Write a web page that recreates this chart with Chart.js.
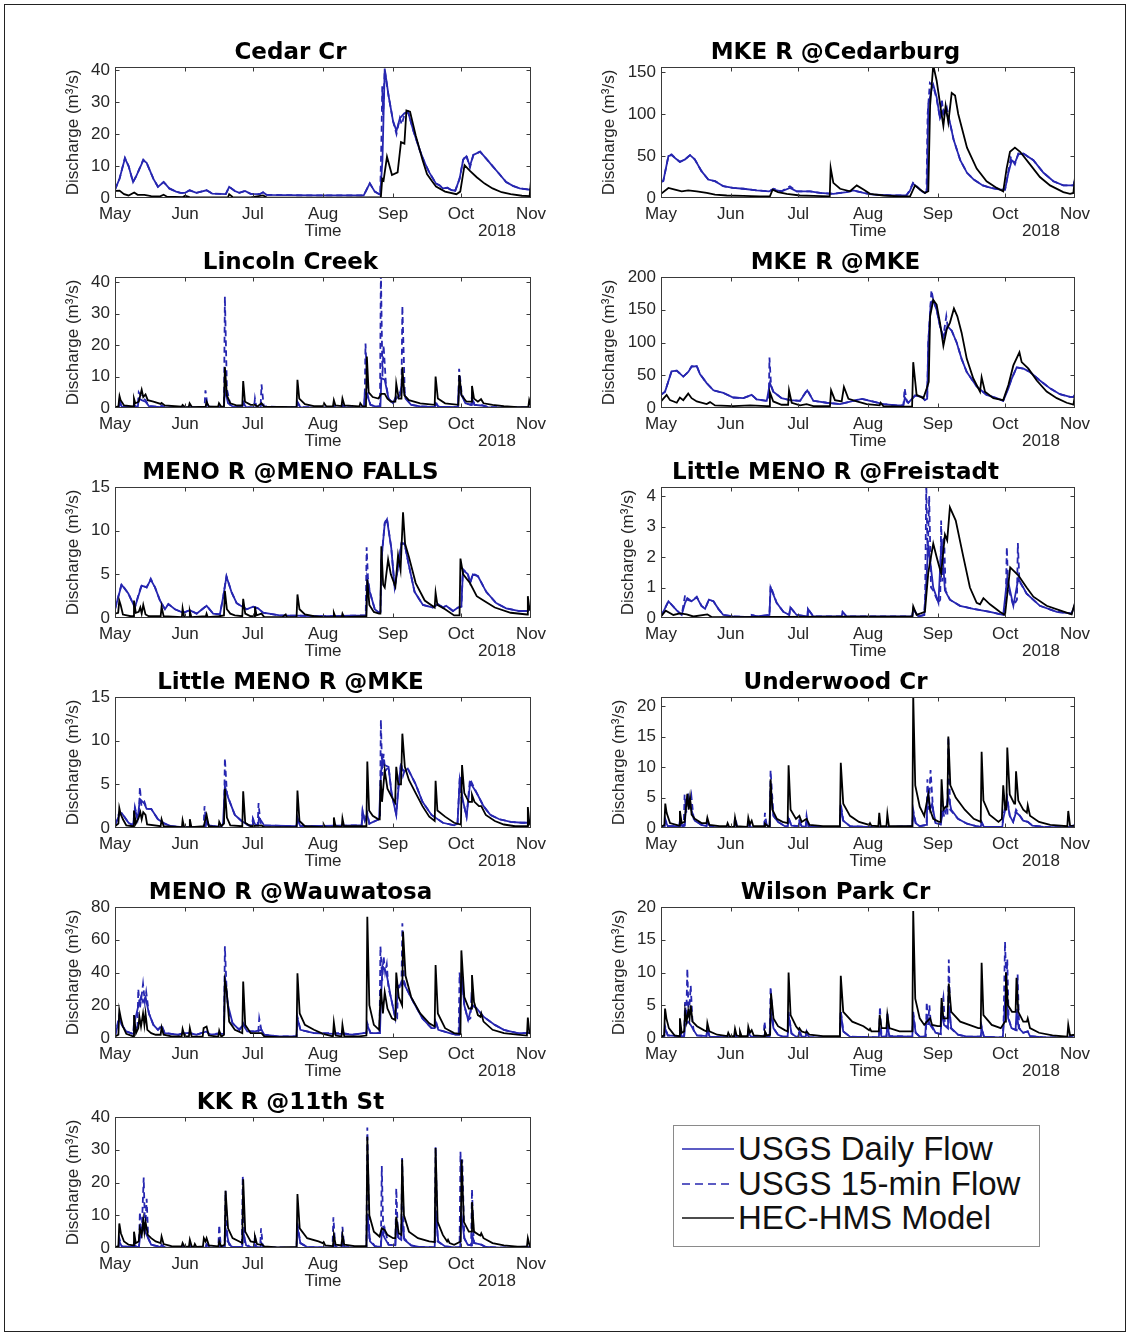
<!DOCTYPE html>
<html>
<head>
<meta charset="utf-8">
<script src="https://cdn.jsdelivr.net/npm/chart.js@4.4.1/dist/chart.umd.min.js"></script>
<style>
  body { margin: 0; background: #fff; width: 1130px; height: 1336px; position: relative; overflow: hidden;
         font-family: "Liberation Sans", Arial, sans-serif; }
  #frame { position: absolute; left: 4px; top: 4px; width: 1120px; height: 1326px; border: 1.5px solid #222; }
  canvas { position: absolute; }
  #legend { position: absolute; left: 673px; top: 1125px; width: 365px; height: 120px; border: 1px solid #8a8a8a; background: #fff; }
  #legend .row { position: absolute; left: 8px; height: 34px; display: flex; align-items: center;
                 font-size: 33px; line-height: 34px; color: #111; white-space: nowrap; }
  #legend svg { margin-right: 4px; }
</style>
</head>
<body>
<div id="frame"></div>
<div id="legend">
  <div class="row" style="top:6px"><svg width="52" height="4"><line x1="0" y1="2" x2="52" y2="2" stroke="#2626b0" stroke-width="1.6"/></svg>USGS Daily Flow</div>
  <div class="row" style="top:41px"><svg width="52" height="4"><line x1="0" y1="2" x2="52" y2="2" stroke="#2626b0" stroke-width="1.6" stroke-dasharray="8 5"/></svg>USGS 15-min Flow</div>
  <div class="row" style="top:75px"><svg width="52" height="4"><line x1="0" y1="2" x2="52" y2="2" stroke="#111" stroke-width="1.6"/></svg>HEC-HMS Model</div>
</div>
<script>
// time axis: days since 1 May 2018
const monthDays = [0, 31, 61, 92, 123, 153, 184];
const monthNames = ['May', 'Jun', 'Jul', 'Aug', 'Sep', 'Oct', 'Nov'];
const yearLabel = '2018';

const siteTitles = ['Cedar Cr', 'MKE R @Cedarburg', 'Lincoln Creek', 'MKE R @MKE', 'MENO R @MENO FALLS',
  'Little MENO R @Freistadt', 'Little MENO R @MKE', 'Underwood Cr', 'MENO R @Wauwatosa', 'Wilson Park Cr', 'KK R @11th St'];
const yMax = [41, 156, 41.7, 200, 15, 4.3, 15, 21.5, 80, 20, 40];
const yStep = [10, 50, 10, 50, 5, 1, 5, 5, 20, 5, 10];

// [day, discharge m3/s]
const cedarDaily = [[0,2.6],[2,6],[4.4,12.4],[6,10],[8,5],[9.5,7],[12.5,11.8],[14,11],[17,6],[19,3.5],[21.5,5],[24,3],[27,2],[29,1.6],[31,1.6],[33,2.4],[36,1.6],[40.5,2.4],[43,1.4],[49,1.2],[50.5,3.5],[53,2.2],[55,1.6],[57.5,2.2],[60,1.3],[64,1.2],[65.5,1.8],[67,1],[75,0.9],[90,0.8],[105,0.8],[110,0.8],[112.7,4.6],[114.9,2],[117.3,1],[118.3,12],[119.3,40.5],[121,32],[123,24],[124.5,21],[126,25],[128,26.5],[129.6,27],[132,21],[134.8,15],[137,11],[139,8],[142,4.5],[143.5,4],[145,3],[147,3.2],[148.7,2.5],[150.5,2.3],[152.4,6],[154,12],[155.4,13],[157,10],[158.5,13.5],[161.5,14.5],[164,12.5],[167,10],[170,7.5],[173,5],[176,3.8],[179,3],[183.4,2.6],[184,3]];
const cedarQ15 = [[0,2.6],[2,6],[4.4,12.6],[6,10],[8,5],[9.5,7],[12.5,12],[14,11],[17,6],[19,3.5],[21.5,5],[24,3],[27,2],[29,1.6],[31,1.6],[33,2.4],[36,1.6],[40.5,2.4],[43,1.4],[49,1.2],[50.5,3.5],[53,2.2],[55,1.6],[57.5,2.2],[60,1.3],[64,1.2],[65.5,1.8],[67,1],[75,0.9],[90,0.8],[105,0.8],[110,0.8],[112.7,4.6],[114.9,2],[117.3,1],[117.9,20],[118.2,35],[118.6,26],[119.3,40],[121,32],[123,24],[124.5,20],[126,25],[126.8,23],[128,26],[129.6,27],[132,21],[134.8,15],[137,11],[139,8],[142,4.5],[143.5,4],[145,3],[147,3.2],[148.7,2.5],[150.5,2.3],[152.4,6],[154,12],[155.4,13.5],[157,9.5],[158.5,13.5],[161.5,14.5],[164,12.5],[167,10],[170,7.5],[173,5],[176,3.8],[179,3],[183.4,2.6],[184,3]];
const cedarModel = [[0,2.2],[2,2.3],[4,1.2],[6,0.8],[8.5,1.7],[10,1],[13,1],[16,0.6],[20,0.5],[21.5,1],[23,0.4],[30,0.3],[31,0.7],[33,0.3],[40,0.2],[50,0.2],[50.5,1.2],[52,0.3],[60,0.2],[65.5,0.8],[67,0.2],[80,0.1],[100,0.1],[112.7,0.2],[117.6,0.3],[118.2,6],[118.8,5.5],[120.3,12.9],[122.5,7.2],[125,8],[126.5,17.5],[128,17],[128.9,27.4],[130.5,27],[133,19.6],[136,12],[138,7.5],[140,5.5],[142,3.6],[146,2],[151,1.2],[152.7,2],[154.6,10.3],[157,8.5],[160,6.5],[163.5,4.5],[167,3],[171,1.8],[175,1.2],[180,0.7],[183.4,0.6],[184,5.5]];

const cedarburgDaily = [[0,20],[1,20],[3.3,50],[4.7,51],[6.5,47],[8.4,43],[10.7,46],[12.9,51],[15,46],[18,32],[21,22],[24,20],[27.7,14],[32,12],[36.6,11],[42.5,9],[48,8],[50,10],[53.6,8],[57.3,12],[60.3,8],[66.2,8],[70.7,6],[76.6,5],[82.5,7],[85.5,9],[90,6],[94.4,4],[103.3,3],[109,3],[110.5,8],[112,17],[114.4,12],[115.9,8],[117.3,6],[118.2,8],[118.8,110],[120.3,130],[121,135],[122.5,120],[124,95],[125.5,105],[127,100],[128.4,90],[130,70],[133,45],[136,30],[139,22],[143,15],[146.7,12],[150.7,10],[152.9,10],[154.4,30],[155.9,45],[157.3,42],[158.8,52],[161,53],[165.5,45],[170,30],[174.4,20],[178.8,15],[183.3,15],[184,22]];
const cedarburgQ15 = [[0,19],[1,20],[3.3,50],[4.7,52],[6.5,47],[8.4,43],[10.7,46],[12.9,51],[15,46],[18,32],[21,22],[24,20],[27.7,14],[32,12],[36.6,11],[42.5,9],[48,8],[50,11],[53.6,8],[57.3,14],[60.3,8],[66.2,8],[70.7,6],[76.6,5],[82.5,7],[85.5,9],[90,6],[94.4,4],[103.3,3],[109,3],[110.5,9],[112,18],[114.4,12],[115.9,8],[117.3,6],[118,8],[118.5,100],[119.5,137],[121,133],[122.5,118],[124,95],[124.8,118],[125.5,100],[127,108],[128.4,90],[130,70],[133,45],[136,30],[139,22],[143,15],[146.7,12],[150.7,10],[152.9,10],[154.4,32],[155.5,48],[157.3,40],[158.8,53],[161,53],[165.5,45],[170,30],[174.4,20],[178.8,15],[183.3,15],[184,22]];
const cedarburgModel = [[0,5],[3.3,12],[6.2,10],[9.2,8],[12.1,9],[15.9,8],[20.3,6],[24,4],[29.2,3],[36.6,2.5],[44,2],[48.4,2],[49.6,10],[52,7],[55.9,5],[61.8,3],[67.7,2.5],[75,2],[75.4,36],[76.6,18],[79.6,11],[84,8],[87,15],[90,10],[92.9,5],[98.8,3],[106,2],[110.7,2],[112.9,15],[115.1,10],[117.3,6],[118.8,8],[119.6,110],[121,158],[122.5,140],[124.7,100],[125.5,86],[126.5,110],[127.7,90],[129.2,125],[130.7,122],[132.1,100],[136,60],[140.3,35],[144.7,20],[149.2,12],[152.1,8],[153.6,35],[155.1,55],[157.3,60],[159.6,55],[164,40],[168.4,25],[172.9,15],[178.8,7],[181.8,5],[183.3,6],[184,25]];

const lincolnDaily = [[0,0.2],[1.6,0.2],[2,1.5],[3,0.5],[8,0.3],[8.4,1],[9.2,0.4],[10.1,0.4],[10.5,3],[11.8,2.5],[13.5,2],[15,0.6],[20.2,0.3],[20.6,0.6],[22,0.2],[40.1,0.2],[40.5,1.5],[41.5,0.3],[48.2,0.3],[48.6,6],[50,1.5],[52,0.5],[56.3,0.3],[56.7,1.5],[58,0.3],[64.4,0.2],[64.8,1.5],[66,0.3],[80.3,0.2],[80.7,1.5],[82,0.3],[96.4,0.1],[96.8,0.5],[97.5,0.1],[100.2,0.1],[100.6,0.8],[102,0.2],[110.1,0.2],[110.5,5],[111.6,4],[113,1],[115,0.5],[117.4,0.5],[117.8,9.5],[119.3,9],[121,3],[123,1.5],[124.4,3],[126,4],[127.1,9],[128.5,3],[131,1],[135,0.5],[141.4,0.3],[141.8,1.5],[143,0.4],[151.6,0.3],[152,6],[153.3,4],[155,1.5],[157.5,1],[157.9,3],[159,1],[162,0.8],[165,0.3],[183,0.2],[184,0.3]];
const lincolnQ15 = [[0,0.2],[1.6,0.2],[2,2.5],[3,0.5],[8,0.3],[8.4,1.2],[9.2,0.4],[10.1,0.4],[10.5,5],[11.8,3.5],[13.5,2.5],[15,0.6],[20.2,0.3],[20.6,0.8],[22,0.2],[39.6,0.2],[40,5.6],[41,0.4],[48.2,0.3],[48.6,35.5],[49.5,6],[51,1],[56.3,0.3],[56.7,2],[58,0.3],[61.5,0.2],[61.9,3],[62.5,0.4],[64.4,0.3],[64.8,7.5],[65.8,0.5],[80.3,0.2],[80.7,2],[82,0.3],[96.4,0.1],[96.8,0.8],[97.5,0.1],[100.2,0.1],[100.6,1],[102,0.2],[110.4,0.2],[110.8,20.5],[111.8,4],[113,1],[115,0.5],[117.2,0.5],[117.6,44],[118.3,10],[118.8,20],[119.8,8],[121,3],[123,1.5],[124.4,4],[126,5],[126.7,5],[127.1,32.5],[128.2,4],[131,1],[135,0.5],[141.4,0.3],[141.8,2],[143,0.4],[151.8,0.3],[152.2,12.5],[153.3,5],[155,1.5],[157.5,1],[157.9,4],[159,1],[162,1],[165,0.3],[183,0.2],[184,0.3]];
const lincolnModel = [[0,0.3],[1.5,0.5],[2,3.8],[2.5,2.5],[4,0.8],[8,0.5],[8.4,3],[9,1.5],[10.5,2],[11.8,5.8],[12.5,3.5],[13.5,4.3],[14.5,2.5],[17,2],[20.2,1.3],[20.6,1.6],[22,0.8],[29.5,0.4],[29.9,1],[31,0.3],[32.6,0.3],[33,1.5],[34,0.3],[40.1,0.4],[40.5,2],[41.5,0.5],[45.6,0.4],[46,1.5],[47,0.4],[48.2,0.5],[48.6,13],[49.5,4],[51,1.5],[54,0.8],[56.3,0.8],[56.7,8.6],[57.5,2],[60,1],[61.9,1],[63,0.5],[64.8,1.5],[66,0.4],[80.3,0.3],[80.7,9],[81.5,3],[84,1.2],[88,0.6],[92.1,0.6],[92.5,1.5],[93.5,0.5],[96.4,0.5],[96.8,2.5],[97.5,0.8],[100.2,0.6],[100.6,3],[101.5,0.8],[108.1,0.5],[108.5,1.5],[109.5,0.5],[111,0.5],[111.4,16.4],[112.2,5],[114,3.5],[116.5,3],[117.8,4.5],[119.3,4.5],[120.5,3],[122,2],[124,2],[124.4,7.8],[125.5,3],[126.7,3],[127.1,13],[128,4],[130,2.5],[135,1.5],[141.4,1],[141.8,10],[142.8,3],[146,1.5],[151.9,1],[152.3,10.5],[153.3,4],[155.5,2],[157.5,2],[157.9,7],[158.8,3],[160.5,2],[161.9,2.8],[163,1.5],[167,1],[172,0.6],[178,0.3],[182.8,0.3],[183.2,2.5],[184,0.5]];

const mkeDaily = [[0,20],[1.8,25],[4.7,56],[7,57],[9.9,48],[12.1,55],[13.6,63],[15.9,64],[17.3,52],[20.3,38],[23.3,27],[27.7,23],[32.1,16],[36.6,15],[40.3,20],[42.5,13],[47,11],[48.4,38],[49.9,25],[53.6,15],[57.3,12],[61.8,11],[65,27],[67.7,11],[73.6,8],[79.6,6],[85.5,11],[89.2,14],[92.9,11],[98.8,6],[104.7,4],[107.7,4],[108.4,16],[109.9,8],[112.9,19],[115.9,17],[117.3,12],[118.3,14],[118.8,100],[119.9,160],[121,165],[122.5,150],[124,125],[125.5,108],[127.3,125],[129.2,118],[131.4,100],[133.6,75],[135.9,55],[140.3,33],[144.7,20],[149.2,15],[152.1,11],[154.4,30],[155.9,45],[158.1,62],[161.1,60],[164,55],[168.4,42],[172.9,30],[177.3,21],[181.8,17],[183.3,17],[184,21]];
const mkeQ15 = [[0,20],[1.8,25],[4.7,56],[7,57],[9.9,48],[12.1,55],[13.6,64],[15.9,64],[17.3,52],[20.3,38],[23.3,27],[27.7,23],[32.1,16],[36.6,15],[40.3,20],[42.5,13],[47,11],[47.9,12],[48.2,77],[48.9,35],[49.9,25],[53.6,15],[57.3,12],[61.8,11],[65,28],[67.7,11],[73.6,8],[79.6,6],[85.5,11],[89.2,14],[92.9,11],[98.8,6],[104.7,4],[107.7,4],[108.3,30],[109.2,10],[109.9,8],[112.9,19],[115.9,17],[117.3,12],[118.3,14],[118.8,100],[120.2,180],[121,165],[122.5,150],[124,125],[125.5,110],[126.8,140],[127.5,122],[129.2,118],[131.4,100],[133.6,75],[135.9,55],[140.3,33],[144.7,20],[149.2,15],[152.1,11],[154.4,32],[155.9,45],[158.1,62],[161.1,60],[164,55],[168.4,42],[172.9,30],[177.3,21],[181.8,17],[183.3,17],[184,21]];
const mkeModel = [[0,10],[2.5,20],[4,12],[7,8],[8.4,16],[9.9,12],[12.1,22],[13.6,15],[15.9,10],[20.3,6],[21.8,9],[24,4],[32.1,3],[39.6,4],[47,3],[48,3],[48.4,24],[49.9,10],[53.6,5],[56.5,5],[56.9,27],[58.1,8],[61.8,4],[64.7,6],[67.7,3],[75.1,3],[75.6,27],[77.3,12],[80.3,10],[81.3,32],[83.3,14],[87,10],[91.4,6],[97.2,4],[97.6,8],[98.8,3],[106.2,2],[111.6,2],[112.1,70],[113.6,20],[116.6,15],[118.1,30],[119,40],[119.6,140],[121,165],[122.5,158],[124,130],[125.5,95],[127,120],[128.4,130],[130.2,152],[131.7,140],[133.6,115],[135.9,75],[138.8,45],[141.8,25],[142.5,47],[144,25],[147.7,15],[152.1,12],[154.4,35],[156.6,65],[159.3,85],[160.3,70],[163.3,60],[167,42],[171.4,25],[175.9,15],[180.3,8],[183.3,5],[184,20]];

const menoFallsDaily = [[0,1],[2.9,3.8],[5.9,2.8],[8.8,1.2],[10.3,2.5],[11.8,3.7],[14,3.5],[15.8,4.4],[17.7,3.5],[19.9,2],[22.1,1],[23.6,1.6],[26.5,1],[30.2,0.6],[33.1,0.9],[36.1,0.5],[40.5,1.4],[43.4,0.5],[46.4,0.4],[47.9,2.5],[49.3,4.75],[51.5,3],[53.8,1.7],[58.2,1],[61.1,1.3],[63.3,1.1],[65.5,0.6],[72.9,0.3],[93.5,0.2],[111.1,0.3],[111.5,4.5],[112.7,3],[114.9,1],[116.8,0.6],[117.4,0.7],[117.8,6.5],[119.3,10.8],[120.3,11.3],[122.2,8],[123.7,3.5],[124.7,5],[126.7,8.5],[128.1,8.5],[130,6],[132.5,3],[136.2,1.5],[140.6,1.2],[142.9,1.6],[145.1,1.2],[146.5,1.4],[149.5,0.8],[151.7,1.2],[153.2,1.3],[153.9,5.5],[156.1,5],[157.1,4],[158.3,5],[160.5,4.8],[164.2,3],[168.6,1.7],[173,1.1],[178.9,0.8],[182.6,0.8],[184,1.5]];
const menoFallsQ15 = [[0,1],[2.9,3.9],[5.9,2.8],[8.8,1.2],[10.3,2.6],[11.8,3.8],[14,3.5],[15.8,4.5],[17.7,3.5],[19.9,2],[22.1,1],[23.6,1.6],[26.5,1],[30.2,0.6],[33.1,0.9],[36.1,0.5],[40.5,1.4],[43.4,0.5],[46.4,0.4],[47.9,2.5],[49.3,4.8],[51.5,3],[53.8,1.7],[58.2,1],[61.1,1.3],[63.3,1.1],[65.5,0.6],[72.9,0.3],[93.5,0.2],[110.9,0.3],[111.3,8.1],[111.9,4.5],[112.7,3],[114.9,1],[116.8,0.6],[117.4,0.7],[117.8,6.6],[119.3,10.9],[120.3,11.4],[122.2,8],[123.7,3.5],[124.7,5],[126.7,8.6],[128.1,8.5],[130,6],[132.5,3],[136.2,1.5],[140.6,1.2],[142.9,1.6],[145.1,1.2],[146.5,1.4],[149.5,0.8],[151.7,1.2],[153.2,1.3],[153.9,5.6],[156.1,5],[157.1,4],[158.3,5.1],[160.5,4.8],[164.2,3],[168.6,1.7],[173,1.1],[178.9,0.8],[182.6,0.8],[184,1.5]];
const menoFallsModel = [[0,0.5],[1.4,0.6],[1.9,2],[2.5,1.5],[3.5,0.4],[7,0.2],[8,0.2],[8.4,2],[9.2,0.6],[10.5,0.7],[11.2,1.2],[11.8,0.5],[12.5,1.5],[13.5,0.4],[15,0.2],[20.2,0.2],[20.6,1.3],[21.5,0.2],[29.6,0.1],[29.9,1.1],[30.6,0.1],[32.8,0.1],[33.1,0.8],[33.8,0.1],[40.2,0.2],[40.5,0.5],[41,0.1],[46,0.2],[48.2,0.3],[48.6,3.1],[49.5,1],[51,0.5],[53,0.3],[56.3,0.2],[56.7,2.2],[57.6,0.5],[60,0.2],[61.5,0.2],[61.9,1.3],[62.6,0.3],[64.8,0.5],[66,0.1],[74,0.1],[75.5,0.4],[76,0.1],[80.3,0.1],[80.7,2.7],[81.6,1],[84,0.4],[88,0.2],[92,0.1],[96.5,0.1],[96.8,0.6],[97.5,0.1],[100.3,0.1],[100.6,0.5],[101.3,0.1],[111.2,0.2],[111.6,4.4],[112.5,1.5],[114.5,0.7],[116.8,0.5],[117.4,0.5],[117.8,8.2],[118.6,3.8],[119.3,3.5],[120.8,6.7],[122,5],[124,3.6],[125.2,7.2],[126.3,5.5],[127.4,12.1],[128.3,8.5],[130,7],[133,4],[137,2],[141.4,1.2],[141.8,2.9],[142.6,1.5],[146,1],[150,0.3],[152.4,0.3],[152.8,6.8],[154,5],[157,4],[160,2.5],[163,2],[168,1.2],[175,0.6],[182.3,0.4],[182.6,2.5],[183.3,1],[184,0.8]];

const freistadtDaily = [[0,0.05],[3.3,0.55],[7,0.25],[9.2,0.1],[10.7,0.5],[11.7,0.65],[13.6,0.55],[15.9,0.68],[18,0.4],[19.6,0.3],[21.3,0.6],[23.3,0.55],[25.5,0.3],[27.7,0.1],[32.1,0.05],[40,0.03],[40.3,0.1],[42.5,0.05],[48.2,0.1],[48.7,1.0],[51.4,0.5],[54.4,0.2],[57,0.1],[57.5,0.35],[60.3,0.1],[65,0.05],[65.3,0.3],[67.7,0.05],[80.3,0.05],[80.7,0.2],[82.5,0.05],[111.7,0.05],[112.1,0.3],[114.4,0.05],[117,0.1],[117.6,0.8],[118.8,2.4],[121,1.0],[123.3,0.5],[124.7,2.6],[126.2,0.9],[128.4,0.6],[132.9,0.4],[138.8,0.3],[146.2,0.2],[152.1,0.1],[153.9,1.33],[156.6,0.4],[158.8,1.3],[162.5,0.8],[168.4,0.4],[175.9,0.2],[182.5,0.15],[184,0.45]];
const freistadtQ15 = [[0,0.05],[3.3,0.55],[7,0.25],[9.2,0.1],[10.7,0.75],[11.7,0.6],[13.6,0.55],[15.9,0.7],[18,0.4],[19.6,0.3],[21.3,0.6],[23.3,0.55],[25.5,0.3],[27.7,0.1],[32.1,0.05],[40,0.03],[40.3,0.1],[42.5,0.05],[48.2,0.1],[48.7,1.05],[51.4,0.5],[54.4,0.2],[57,0.1],[57.5,0.35],[60.3,0.1],[65,0.05],[65.3,0.3],[67.7,0.05],[80.3,0.05],[80.7,0.2],[82.5,0.05],[111.7,0.05],[112.1,0.3],[114.4,0.05],[117,0.1],[117.4,0.7],[117.9,4.4],[118.5,2],[119.2,4],[120,1],[121,0.9],[123.3,0.5],[124.1,0.6],[124.5,3.2],[125.1,1.2],[125.8,2.7],[126.5,0.9],[128.4,0.6],[132.9,0.4],[138.8,0.3],[146.2,0.2],[152.1,0.1],[153.2,0.5],[153.7,2.33],[154.3,1],[156.6,0.4],[158.2,0.6],[158.6,2.46],[159.3,1.2],[162.5,0.8],[168.4,0.4],[175.9,0.2],[182.5,0.15],[184,0.45]];
const freistadtModel = [[0,0.05],[2.1,0.24],[5.5,0.1],[8.4,0.15],[11.4,0.12],[14.4,0.05],[20.6,0.12],[22.5,0.03],[111.7,0.05],[112.1,0.38],[113.6,0.1],[117.3,0.2],[118.8,1.5],[121,2.44],[122.5,2.0],[124.5,1.46],[126.2,2.74],[127.2,2.55],[128.4,3.63],[131,3.2],[134.4,2.0],[137.3,1.0],[140.3,0.5],[141.8,0.45],[143.3,0.65],[146.2,0.45],[150.7,0.2],[152.9,0.1],[155.2,1.66],[158.8,1.4],[162.5,1.0],[165.5,0.7],[171.4,0.4],[177.3,0.25],[182.5,0.12],[184,0.5]];

const littleMenoDaily = [[0,0.3],[1.9,1.5],[3,1.7],[6,0.6],[8,0.3],[8.8,2.2],[10,1],[11,3.3],[13,2.8],[14,2.2],[16,2.2],[19,1],[22,0.5],[25,0.2],[30,0.1],[40.1,0.1],[40.5,1],[41.5,0.3],[47,0.1],[47.8,0.5],[48.6,4.8],[50,3.5],[53,1.5],[56,0.8],[59,0.3],[60.6,0.3],[61,1],[62,0.4],[63.3,0.3],[63.7,1.2],[66,0.3],[80.3,0.2],[80.7,1],[82,0.2],[108,0.3],[109.1,0.3],[109.5,1.9],[110.5,0.8],[111.6,1.5],[112.5,0.5],[116.8,1],[117.6,6],[118.2,8],[119.2,7.2],[121,7],[122.3,4],[124.4,1.5],[125.2,4],[126.3,7],[128,6.5],[129.5,6.8],[133,5],[136,3],[140,1.5],[145,0.6],[150,0.3],[151.5,0.5],[152.5,5.5],[154,3],[155.5,1.3],[157.1,5.2],[160,4],[163,2.5],[166,1.5],[170,1],[175,0.7],[180,0.6],[183,0.6],[184,1]];
const littleMenoQ15 = [[0,0.3],[1.9,1.8],[3,1.7],[6,0.6],[8,0.3],[8.8,2.4],[10,1],[10.6,1.2],[11,4.7],[11.7,2.5],[13,3],[14,2.2],[16,2.2],[19,1],[22,0.5],[25,0.2],[30,0.1],[39.2,0.1],[39.6,2.5],[40.3,0.6],[41.5,0.3],[47,0.1],[47.8,0.5],[48.2,0.6],[48.6,8],[49.5,4],[50,3.5],[53,1.5],[56,0.8],[59,0.3],[60.6,0.3],[61,1.1],[62,0.4],[63.1,0.3],[63.5,2.85],[64.3,0.6],[66,0.3],[80.3,0.2],[80.7,1.2],[82,0.2],[108,0.3],[109.1,0.3],[109.5,2],[110.5,0.8],[111.6,1.7],[112.5,0.5],[116.8,1],[117.2,1],[117.6,12.4],[118.2,6],[118.8,8.5],[119.5,6.5],[121,7],[122.3,4],[124.4,1.6],[125.2,4.5],[126.6,7.5],[127.4,6],[128,6.5],[129.5,6.8],[133,5],[136,3],[140,1.5],[145,0.6],[150,0.3],[151.5,0.5],[152.5,6],[153.2,3.5],[154,3],[155.5,1.3],[157,5.6],[160,4],[163,2.5],[166,1.5],[170,1],[175,0.7],[180,0.6],[183,0.6],[184,1]];
const littleMenoModel = [[0,0.2],[1.5,0.5],[1.9,2.3],[2.5,1.6],[3.5,1],[5,0.3],[8,0.2],[8.4,2],[9.2,0.5],[10.5,1.2],[11.2,1.8],[11.8,1],[12.5,1.8],[13.5,1.5],[14.2,0.4],[20.2,0.2],[20.6,1],[21.5,0.2],[29.6,0.1],[29.9,0.9],[30.6,0.1],[32.8,0.1],[33.1,1],[33.8,0.1],[39.3,0.2],[39.8,0.8],[40.5,1.5],[41.5,0.2],[45.8,0.1],[46.1,0.7],[47,0.2],[48.2,0.5],[48.6,4.5],[49.5,1.2],[51,0.3],[56.3,0.2],[56.7,4.2],[57.6,0.6],[60,0.2],[64.8,0.3],[66,0.1],[80.3,0.1],[80.7,4.3],[81.6,0.8],[84,0.2],[92,0.1],[92.3,0.4],[92.9,0.1],[96.5,0.1],[96.8,1.2],[97.5,0.2],[100.3,0.1],[100.6,1.1],[101.3,0.2],[111.2,0.2],[111.6,7.6],[112.4,2],[114,1.4],[116.5,1],[117.1,1],[117.5,5.5],[118.1,3],[119.3,6.6],[120.5,4.5],[122.5,3.5],[123.9,2.9],[124.4,7],[125.3,5],[126.5,5],[127.1,10.8],[128.2,7],[130,5.5],[133,4],[136,2.5],[139,1.3],[141.4,0.8],[141.8,5.4],[142.6,2],[146,1.3],[150,0.6],[153,0.4],[153.5,7.2],[154.5,4],[156.5,3],[157.6,3],[157.9,3.8],[159,3],[161,2.5],[162,2.5],[164,1.5],[168,0.8],[172,0.4],[177,0.2],[182.3,0.2],[182.6,2.4],[183.3,0.5],[184,0.8]];

const underwoodDaily = [[0,0.1],[1.5,0.1],[1.9,1.2],[3,0.3],[8,0.3],[8.4,1],[9.5,0.3],[10.6,0.4],[11,3.5],[12.1,5.2],[13.5,3],[15,1.2],[18,0.5],[20.2,0.3],[20.6,1],[22,0.2],[32.5,0.1],[32.9,0.6],[34,0.1],[38.4,0.1],[38.8,0.6],[40,0.1],[45.8,0.1],[46.2,1],[47.5,0.3],[48.3,0.3],[48.7,6.5],[50,2],[52,1],[55,0.3],[56.3,0.3],[56.7,1.5],[58,0.4],[61.1,0.3],[61.5,1],[62.5,0.3],[64.3,0.2],[64.7,1.2],[66,0.2],[79.5,0.2],[79.9,3.5],[81,1.2],[84,0.3],[96,0.1],[100.6,0.2],[111.7,0.3],[112.1,2.5],[113.2,0.8],[115,0.3],[117.8,0.5],[118.2,4.5],[118.8,5.8],[119.6,3],[120.5,4],[122,0.8],[124.3,0.6],[124.7,1.5],[125.6,3],[126.5,2.5],[127.7,5.3],[129,3],[132,1.5],[136,0.7],[140,0.3],[142.1,0.2],[142.5,0.8],[143.5,0.2],[151.7,0.2],[152.1,1.5],[153.9,4.5],[155,2],[156.5,1],[157.8,2.6],[159.5,2],[161,1.2],[163,1],[165,0.4],[170,0.2],[181,0.1],[184,0.5]];
const underwoodQ15 = [[0,0.1],[1.5,0.1],[1.9,1.5],[3,0.3],[8,0.3],[8.4,1.2],[9.5,0.3],[10.1,0.3],[10.5,5.5],[11.2,2.5],[12,5.6],[12.7,3],[13.5,5.2],[14.5,1.5],[18,0.5],[20.2,0.3],[20.6,1.2],[22,0.2],[32.5,0.1],[32.9,1.8],[34,0.1],[38.4,0.1],[38.8,0.8],[40,0.1],[45.8,0.1],[46.2,2.5],[47,0.3],[48.3,0.3],[48.7,9.5],[50,2],[52,1],[55,0.3],[56.3,0.3],[56.7,1.7],[58,0.4],[61.1,0.3],[61.5,1.2],[62.5,0.3],[64.3,0.2],[64.7,2],[65.5,0.2],[79.5,0.2],[79.9,4],[81,1.2],[84,0.3],[96,0.1],[111.7,0.3],[112.1,3],[113.2,0.8],[115,0.3],[118,0.5],[118.4,8],[119,3],[119.8,9.5],[121,2.5],[122,0.8],[124.3,0.6],[124.7,4],[125.8,2],[127.3,2],[127.7,15],[128.5,3],[132,1.5],[136,0.7],[140,0.3],[142.1,0.2],[142.5,1],[143.5,0.2],[151.7,0.2],[152.1,2],[153.9,5],[155,2],[156.5,1],[157.8,3],[159.5,2],[161,1.2],[163,1],[165,0.4],[170,0.2],[181,0.1],[184,0.5]];
const underwoodModel = [[0,0.2],[1.5,0.5],[1.9,4],[2.5,2.5],[4,0.8],[8,0.4],[8.4,2.8],[9.2,0.8],[10.5,1],[11.7,5.6],[12.3,3],[12.9,5],[13.6,2.2],[15,1.5],[18,0.8],[20.2,0.8],[20.6,1.7],[21.5,0.5],[26,0.3],[29.2,0.3],[29.6,0.8],[30.3,0.2],[32.5,0.2],[32.9,1.7],[33.6,0.3],[38.4,0.2],[38.8,1.7],[39.5,0.6],[40.3,1.2],[41,0.3],[45.8,0.3],[46.2,0.7],[47.5,0.3],[48.3,0.3],[48.7,8],[49.5,3],[51.5,1.5],[54,1],[56.3,0.8],[56.7,10.3],[57.6,3],[60,1.5],[61.5,2],[62.5,1],[64.7,1.5],[66,0.5],[72,0.3],[79.5,0.3],[79.9,10.7],[81,4],[84,2],[88,1],[92.5,0.5],[92.9,0.8],[93.5,0.4],[96.6,0.3],[97,2.5],[97.6,0.3],[100.2,0.3],[100.6,2.3],[101.3,0.3],[111.7,0.3],[112.1,21.7],[113,7],[115,3.5],[117,2],[118,4],[118.8,5.5],[119.6,3],[121,1.5],[123.5,1],[124.3,1],[124.7,8],[125.5,3],[126.5,3.5],[127.3,3.5],[127.7,15],[128.6,7],[131,5],[135,3],[139,1.5],[142.1,1],[142.5,12.5],[143.3,4.5],[146,2.2],[150,1],[151.5,1.5],[152.1,7],[153,3],[153.5,3],[153.9,13.2],[155,5.5],[157,4],[157.4,4],[157.8,9.3],[158.8,4.5],[161,3],[162.6,2.5],[163,3.7],[164,2],[168,1],[173,0.5],[180.6,0.3],[181,2.8],[181.8,0.4],[184,0.3]];

const wauwatosaDaily = [[0,1],[1.9,12],[3,8],[5,4],[8,2.5],[8.4,8],[10.3,19.6],[11.5,25],[12.4,22],[13.5,25],[15,15],[17,8],[19,5],[20.6,7],[22,3],[28,2],[30,3],[33,3],[36,2],[40.5,4],[42,2],[46.1,2.5],[48.2,2.5],[48.6,38],[50,20],[52,9],[55,5],[56.7,8],[58.5,4],[62,4],[64.8,5],[66,2],[72,1],[80.3,1],[80.7,12],[82,5],[88,3],[96.8,2.5],[100.6,2.5],[105,2],[110,3],[111.2,3],[111.6,8],[113,3],[116,3],[117.2,3],[117.6,22],[118.3,44],[120,40],[122,25],[124,12],[125.2,30],[127,35],[129,30],[132,22],[136,12],[140,6],[141.4,6],[141.8,10],[143,5],[148,3],[151,2],[152.2,2],[152.6,20],[153.4,38],[154.5,20],[156.2,11],[157.9,20],[160,18],[163,13],[168,8],[172,5],[178,3],[182.6,3],[184,4]];
const wauwatosaQ15 = [[0,1],[1.9,14],[3,8],[5,4],[8,2.5],[8.4,9],[9.9,4],[10.3,30],[11,18],[11.8,26],[12.4,33],[13.2,22],[13.8,28],[15,15],[17,8],[19,5],[20.6,8],[22,3],[28,2],[30,3],[33,3],[36,2],[40.5,4],[42,2],[46.1,3],[48.2,3],[48.6,56],[49.5,25],[50.5,15],[52,9],[55,5],[56.7,9],[58.5,4],[63.4,4],[63.8,12],[65,3],[66,2],[72,1],[80.3,1],[80.7,13],[82,5],[88,3],[96.8,3],[100.6,3],[105,2],[110,3],[111.2,3],[111.6,9],[113,3],[116,3],[117,3],[117.4,56],[118.2,35],[118.8,50],[119.5,40],[120.2,45],[121,30],[122,25],[124,12],[124.8,12],[125.2,32],[126.7,30],[127.1,70],[127.8,35],[129,30],[132,22],[136,12],[140,6],[141.4,6],[141.8,11],[143,5],[148,3],[151,2],[152,2],[152.4,40],[153,28],[153.5,38],[154.5,20],[156.2,11],[157.2,12],[157.6,24],[158.2,20],[160,18],[163,13],[168,8],[172,5],[178,3],[182.6,3],[184,4]];
const wauwatosaModel = [[0,1],[1.5,2],[1.9,17],[2.6,12],[3.5,7],[5,2.5],[8,1],[8.4,14],[9.3,3],[10.3,6],[10.8,13],[11.5,7],[12.4,15],[13,8],[13.5,15],[14.3,5],[16,3],[18,2],[20.2,2],[20.6,6.5],[21.5,2],[25,1],[29.5,1],[29.9,5.5],[30.8,1],[32.7,1],[33.1,6],[33.9,0.8],[38.8,1],[39.2,6],[40.5,7],[41.5,1.5],[45.7,0.8],[46.1,4.5],[47,0.8],[48.2,2],[48.6,35],[49.3,30],[50.5,10],[53,5],[56.3,3],[56.7,34.5],[57.6,8],[60,3],[62,3],[64.8,3],[66,1],[72,0.5],[80.3,0.5],[80.7,39.5],[81.7,15],[84,8],[88,5],[92,2.5],[96.4,1],[96.8,9.5],[97.6,1.5],[100.2,1],[100.6,8],[101.4,1],[108,1],[111.2,1.5],[111.6,74],[112.5,20],[114.5,8],[116.8,5],[117.2,5],[117.6,30],[118.5,15],[119.3,28],[120.5,18],[122.5,12],[124,11],[124.4,40],[125.5,25],[127,20],[127.4,65],[128.5,38],[131,25],[135,15],[139,9],[141.4,7],[141.8,44.5],[142.8,15],[146,6],[150,3],[152.8,2.5],[153.2,53.5],[154.5,25],[156.5,18],[157.5,18],[157.9,38.5],[158.8,22],[160.5,14],[161.6,13],[162,15],[163,10],[167,5],[172,3],[178,2],[182.2,1.5],[182.6,12.5],[183.3,3],[184,2.5]];

const wilsonDaily = [[0,0.1],[1.4,0.1],[1.8,1.5],[3,0.4],[8,0.3],[8.4,1],[9.3,0.2],[10.3,0.3],[10.7,2],[12.1,2.5],[13.2,2],[14.5,1.2],[16,0.4],[20.2,0.3],[20.6,1.3],[21.6,0.2],[32.5,0.1],[32.9,0.4],[34,0.1],[38.4,0.1],[38.8,0.8],[40,0.2],[45.8,0.1],[46.2,0.5],[47,0.1],[48.3,0.2],[48.7,4],[50,1.5],[52,0.5],[54,0.2],[56.3,0.2],[56.7,3.5],[58,0.7],[60,0.2],[61.1,0.2],[61.5,1],[62.5,0.2],[64.3,0.2],[64.7,0.8],[65.8,0.1],[79.5,0.1],[79.9,3.9],[81,1],[84,0.2],[96.8,0.1],[97.2,1.5],[98,0.2],[100.2,0.2],[100.6,2],[101.5,0.3],[111.7,0.2],[112.1,3.5],[113.2,0.8],[115,0.2],[117.4,0.2],[117.8,2.5],[118.5,3],[119.6,2],[120.5,1.8],[122,0.8],[124.3,0.6],[124.7,4],[125.8,2],[127.5,1.5],[127.9,5],[129,1.5],[132,0.5],[136,0.2],[142.1,0.2],[142.5,1.5],[143.5,0.2],[150,0.1],[151.9,0.1],[152.3,2],[153.3,8],[154.3,3],[155.8,1.5],[157.6,1.2],[158,4],[159,1.5],[161,0.8],[163,1],[164,0.3],[170,0.1],[181,0.1],[184,0.5]];
const wilsonQ15 = [[0,0.1],[1.4,0.1],[1.8,1.8],[3,0.4],[8,0.3],[8.4,1.2],[9.3,0.2],[10.3,0.3],[10.7,5.5],[11.2,2.5],[11.7,10.6],[12.3,3],[13.2,8],[14,2.5],[14.5,1.2],[16,0.4],[20.2,0.3],[20.6,1.5],[21.6,0.2],[32.5,0.1],[32.9,0.6],[34,0.1],[38.4,0.1],[38.8,1],[40,0.2],[45.6,0.1],[46,2.5],[46.8,0.2],[48.3,0.2],[48.7,7.8],[50,1.5],[52,0.5],[54,0.2],[56.3,0.2],[56.7,4],[58,0.7],[60,0.2],[61.1,0.2],[61.5,1.2],[62.5,0.2],[64.3,0.2],[64.7,1],[65.8,0.1],[79.5,0.1],[79.9,4.2],[81,1],[84,0.2],[96.9,0.1],[97.3,4.8],[98,0.2],[100.2,0.2],[100.6,4],[101.5,0.3],[111.7,0.2],[112.1,4],[113.2,0.8],[115,0.2],[117.7,0.2],[118.1,5.5],[118.7,2],[119.3,5],[120,1.8],[122,0.8],[124.3,0.6],[124.7,4.5],[125.5,6.2],[126.2,2],[127.5,1.5],[127.9,12],[128.7,1.5],[132,0.5],[136,0.2],[142.1,0.2],[142.5,1.8],[143.5,0.2],[150,0.1],[151.9,0.1],[152.3,3],[152.9,14.7],[153.5,8],[153.9,12],[154.5,3],[155.8,1.5],[158.1,1.2],[158.5,9.7],[159.2,1.5],[161,0.8],[163,1],[164,0.3],[170,0.1],[181,0.1],[184,0.5]];
const wilsonModel = [[0,0.2],[1.4,0.4],[1.8,4.5],[2.4,3],[3.5,1.5],[6,0.4],[8,0.3],[8.4,3],[9.2,0.8],[10.3,1],[10.7,4],[11.4,2.5],[12.1,4.2],[12.7,3],[13.2,5],[14,2.5],[16,1.8],[19,1.2],[20.3,1],[20.6,2.3],[21.5,1],[25,0.5],[29.5,0.3],[29.9,0.8],[30.6,0.3],[32.5,0.3],[32.9,1.4],[33.6,0.4],[34.7,0.3],[35.1,1],[35.8,0.3],[38.5,0.3],[38.8,1.7],[39.5,0.8],[40.3,1.2],[41.2,0.4],[45.8,0.3],[46.2,1],[47,0.4],[48.5,0.5],[48.9,6.8],[50,3],[52,1.8],[55,1.2],[56.3,1],[56.7,10],[57.6,3.5],[60,1.8],[61.1,1.3],[61.5,1.5],[62.5,1],[64.3,0.8],[64.7,1],[66,0.5],[72,0.3],[79.5,0.3],[79.9,9.5],[81,4],[85,2.5],[90,1.8],[92.5,1.2],[92.9,1.4],[93.5,1],[96.8,1],[97.2,3.5],[98,1.5],[100.2,1.5],[100.6,3.6],[101.5,1.5],[106,1],[111.7,1],[112.1,19.4],[113,6],[115,3],[117,2],[118.5,2.6],[119.6,3],[120.5,2],[123,1.8],[124.3,1.8],[124.7,6.1],[125.5,3],[127.4,3],[127.9,8.3],[129,4],[133,2.5],[137,2],[141,1.5],[142.1,1.5],[142.5,11.5],[143.3,3.5],[147,2],[151,1.5],[152.9,2.5],[153.3,10],[154.2,5],[156,4],[157.6,4],[158,9.2],[158.8,4],[161,2.5],[162.6,2.5],[163,3],[164,1.5],[168,0.8],[174,0.4],[180.6,0.2],[181,2],[181.8,0.4],[184,0.5]];

const kkDaily = [[0,0.2],[1.5,0.2],[1.9,2],[3,0.5],[8,0.3],[8.4,1.2],[9.5,0.3],[10.6,0.4],[11,3],[12.7,6],[14,4],[16,1],[20.2,0.3],[20.6,0.8],[22,0.2],[29.5,0.1],[29.9,0.3],[30.5,0.1],[32.7,0.1],[33.1,0.5],[33.8,0.1],[40.1,0.1],[40.5,1],[42,0.2],[45.7,0.1],[46.1,1],[47,0.2],[48.5,0.2],[48.9,6],[50.5,1],[52,0.3],[56.3,0.3],[56.7,5],[58,0.8],[60,0.2],[61.5,0.2],[61.9,1],[62.8,0.2],[64.4,0.2],[64.8,1.5],[66,0.2],[80.3,0.1],[80.7,6.4],[82,1.5],[85,0.3],[96.4,0.1],[96.8,1.5],[97.8,0.2],[100.2,0.1],[100.6,1.5],[101.6,0.2],[111.2,0.2],[111.6,10.5],[112.8,2],[115,0.5],[117.6,0.4],[118,5],[119.3,3],[121,1],[124,0.8],[124.4,7],[125.5,3],[126.6,2.5],[127,9],[128,2.5],[131,0.8],[135,0.3],[141.4,0.2],[141.8,11],[143,2],[146,0.5],[150,0.2],[152.7,0.2],[153.1,11],[154.5,3],[156,1],[157.5,0.8],[157.9,4],[159,1.5],[162,1],[164,0.3],[170,0.1],[182.6,0.3],[184,0.3]];
const kkQ15 = [[0,0.2],[1.5,0.2],[1.9,3],[3,0.5],[8,0.3],[8.4,1.5],[9.5,0.3],[10.6,0.4],[11,11],[11.7,3],[12.7,21.5],[13.3,5],[14,15],[14.7,3],[16,1],[20.2,0.3],[20.6,1],[22,0.2],[29.5,0.1],[29.9,0.4],[30.5,0.1],[32.7,0.1],[33.1,0.7],[33.8,0.1],[40.1,0.1],[40.5,1.2],[42,0.2],[45.7,0.1],[46.1,7],[46.8,0.3],[48.5,0.3],[48.9,17.5],[49.8,2],[52,0.3],[56.1,0.3],[56.5,22],[57.3,1.5],[60,0.2],[61.5,0.2],[61.9,4],[62.6,0.2],[64.2,0.2],[64.6,6],[65.4,0.5],[66,0.2],[80.3,0.1],[80.7,7.5],[82,1.5],[85,0.3],[96.2,0.1],[96.6,9.4],[97.4,0.5],[100.2,0.2],[100.6,6.5],[101.4,0.3],[111.2,0.2],[111.6,36.8],[112.5,3],[115,0.5],[117.6,0.4],[118,25],[118.7,4],[119.3,6],[121,1],[124,0.8],[124.4,18.2],[125.2,3],[126.6,2.5],[127,27.5],[127.8,3],[131,0.8],[135,0.3],[141.4,0.2],[141.8,30.9],[142.7,2],[146,0.5],[150,0.2],[152.4,0.2],[152.8,29.4],[153.2,20],[153.6,27],[154.5,3],[156,1],[157.5,0.8],[157.9,17.9],[158.7,1.5],[162,1],[164,0.3],[170,0.1],[182.6,0.4],[184,0.3]];
const kkModel = [[0,0.3],[1.5,0.5],[1.9,7.5],[2.6,4.5],[4,2],[6,1],[8,0.8],[8.4,5],[9.2,1.5],[10.5,2],[11,6],[11.8,4],[12.5,8.5],[13,5],[13.5,8],[14.5,4],[16,3],[18,2],[20.2,1.5],[20.6,3.5],[21.5,1.2],[25,0.6],[29.5,0.5],[29.9,1.5],[30.7,0.4],[32.7,0.4],[33.1,2.5],[33.9,0.5],[34.9,0.4],[35.3,1.2],[36,0.3],[38.9,0.5],[39.3,3],[40,2],[40.5,3],[41.5,0.8],[45.7,0.5],[46.1,2],[47,0.5],[48.5,1],[48.9,17.5],[50,6],[52,3],[55,2],[56.3,1.5],[56.7,21],[57.6,5],[60,2],[61.5,1.8],[61.9,3.5],[62.8,1.2],[64.4,1],[64.8,1.2],[66,0.5],[72,0.2],[80.3,0.3],[80.7,16.5],[81.7,6],[85,3],[90,2],[91.9,1.5],[92.3,1.8],[93,0.8],[96.4,0.6],[96.8,4],[97.6,1],[100.2,0.8],[100.6,4],[101.4,1],[106,0.6],[111.2,0.6],[111.6,34],[112.5,10],[114.5,5],[117,3.5],[118,6],[119.3,5.5],[120.5,4],[123,3],[124,3],[124.4,9.5],[125.5,4.5],[126.6,4],[127,27],[127.8,10],[130,5],[134,3],[139,2],[141.4,1.8],[141.8,30.5],[142.7,8],[145,4],[146.9,2],[147.3,2.5],[148,1.5],[150,1],[152.9,2],[153.3,27],[154.3,8],[156.5,5],[157.5,5],[157.9,14],[158.8,5],[161,4],[161.6,3.8],[162,4.5],[163,3],[167,1.5],[172,0.8],[178,0.4],[182.2,0.4],[182.6,3],[183.4,0.6],[184,0.5]];

const siteSeries = [
  [cedarDaily, cedarQ15, cedarModel],
  [cedarburgDaily, cedarburgQ15, cedarburgModel],
  [lincolnDaily, lincolnQ15, lincolnModel],
  [mkeDaily, mkeQ15, mkeModel],
  [menoFallsDaily, menoFallsQ15, menoFallsModel],
  [freistadtDaily, freistadtQ15, freistadtModel],
  [littleMenoDaily, littleMenoQ15, littleMenoModel],
  [underwoodDaily, underwoodQ15, underwoodModel],
  [wauwatosaDaily, wauwatosaQ15, wauwatosaModel],
  [wilsonDaily, wilsonQ15, wilsonModel],
  [kkDaily, kkQ15, kkModel]
];

const blue = '#2626b0';
const ink = '#262626';
const yTitle = 'Discharge (m\u00b3/s)';
const axisFont = { family: '"Liberation Sans", Arial, sans-serif', size: 17 };

// page geometry of the subplot grid
const colLeft = [115, 661];
const colWidth = [416, 414];
const rowTop = 67, rowStep = 210, plotH = 131;
const leftBox = 65, titleBox = 35, bottomBox = 45, rightPad = 22;

// MATLAB-style box, inward ticks, x/y titles and year stamp
const axesBox = {
  id: 'axesBox',
  afterDraw(chart) {
    const { ctx, chartArea: a, scales: { x, y } } = chart;
    ctx.save();
    ctx.strokeStyle = '#3a3a3a';
    ctx.lineWidth = 1;
    const L = Math.round(a.left) + 0.5, T = Math.round(a.top) + 0.5;
    const R = Math.round(a.right) - 0.5, B = Math.round(a.bottom) - 0.5;
    ctx.strokeRect(L, T, R - L, B - T);
    ctx.beginPath();
    x.ticks.forEach(t => {
      const px = Math.round(x.getPixelForValue(t.value)) + 0.5;
      if (px < L + 2 || px > R - 2) return;
      ctx.moveTo(px, B); ctx.lineTo(px, B - 4);
      ctx.moveTo(px, T); ctx.lineTo(px, T + 4);
    });
    y.ticks.forEach(t => {
      const py = Math.round(y.getPixelForValue(t.value)) + 0.5;
      if (py < T + 2 || py > B - 2) return;
      ctx.moveTo(L, py); ctx.lineTo(L + 4, py);
      ctx.moveTo(R, py); ctx.lineTo(R - 4, py);
    });
    ctx.stroke();

    ctx.fillStyle = ink;
    ctx.font = '17px "Liberation Sans", Arial, sans-serif';
    ctx.textAlign = 'center';
    ctx.textBaseline = 'middle';
    ctx.fillText('Time', (a.left + a.right) / 2, a.bottom + 33);
    ctx.fillText(yearLabel, a.right - 34, a.bottom + 33);
    const w = Math.max(...y.ticks.map(t => ctx.measureText(t.label).width));
    ctx.translate(a.left - 23 - w, (a.top + a.bottom) / 2);
    ctx.rotate(-Math.PI / 2);
    ctx.fillText(yTitle, 0, 0);
    ctx.restore();
  }
};

const toXY = pts => pts.map(([d, q]) => ({ x: d, y: q }));

siteTitles.forEach((title, i) => {
  const col = i % 2, row = Math.floor(i / 2);
  const cv = document.createElement('canvas');
  cv.width = leftBox + colWidth[col] + rightPad;
  cv.height = titleBox + plotH + bottomBox;
  cv.style.left = (colLeft[col] - leftBox) + 'px';
  cv.style.top = (rowTop + row * rowStep - titleBox) + 'px';
  document.body.appendChild(cv);

  const [daily, q15, model] = siteSeries[i];
  new Chart(cv, {
    type: 'line',
    data: {
      datasets: [
        { label: 'HEC-HMS Model', data: toXY(model), borderColor: '#000', borderWidth: 1.8 },
        { label: 'USGS 15-min Flow', data: toXY(q15), borderColor: blue, borderWidth: 1.8, borderDash: [6, 4] },
        { label: 'USGS Daily Flow', data: toXY(daily), borderColor: blue, borderWidth: 1.8 }
      ]
    },
    options: {
      responsive: false,
      animation: false,
      layout: { padding: { left: 0, right: rightPad, top: 0, bottom: 0 } },
      elements: { point: { radius: 0 }, line: { tension: 0, fill: false } },
      plugins: {
        legend: { display: false },
        tooltip: { enabled: false },
        title: {
          display: true, text: title, color: '#000',
          font: { family: '"DejaVu Sans", sans-serif', weight: 'bold', size: 23, lineHeight: 1.2 },
          padding: { top: 7.2, bottom: 0.2 }
        }
      },
      scales: {
        x: {
          type: 'linear', min: 0, max: 184,
          grid: { display: false, drawTicks: false },
          border: { display: false },
          afterBuildTicks: s => { s.ticks = monthDays.map(v => ({ value: v })); },
          afterFit: s => { s.height = bottomBox; },
          ticks: {
            autoSkip: false, maxRotation: 0, padding: 6, color: ink, font: axisFont,
            callback: (v, idx) => monthNames[idx]
          }
        },
        y: {
          min: 0, max: yMax[i],
          grid: { display: false, drawTicks: false },
          border: { display: false },
          afterFit: s => { s.width = leftBox; },
          ticks: { stepSize: yStep[i], includeBounds: false, padding: 5, color: ink, font: axisFont }
        }
      }
    },
    plugins: [axesBox]
  });
});
</script>
</body>
</html>
